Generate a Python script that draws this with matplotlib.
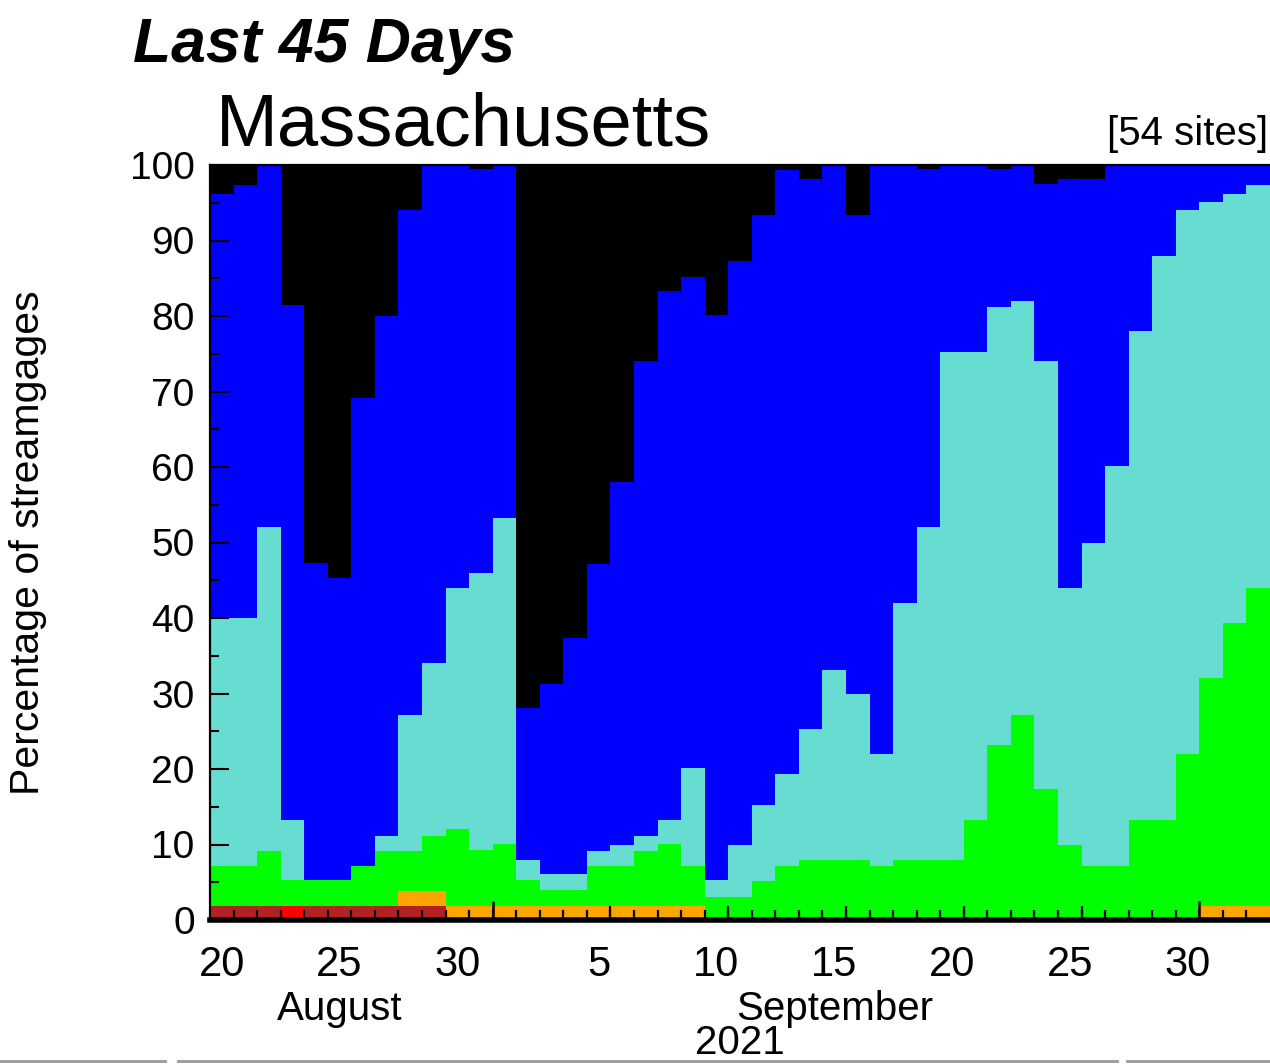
import numpy as np
import matplotlib.pyplot as plt
from matplotlib.lines import Line2D

plt.rcParams['font.family'] = ['Liberation Sans', 'DejaVu Sans']

# days shown (Aug 20 - Oct 3, 2021)
days = list(range(20, 32)) + list(range(1, 31)) + [1, 2, 3]

# percentage of streamgages in each flow class, per day
low = [0, 0, 0, 1.9, 0, 0, 0, 0, 0, 0,
       0, 0, 0, 0, 0, 0, 0, 0, 0, 0,
       0, 0, 0, 0, 0, 0, 0, 0, 0, 0,
       0, 0, 0, 0, 0, 0, 0, 0, 0, 0,
       0, 0, 0, 0, 0]
much_below = [1.9, 1.9, 1.9, 0, 1.9, 1.9, 1.9, 1.9, 1.9, 1.9,
              0, 0, 0, 0, 0, 0, 0, 0, 0, 0,
              0, 0, 0, 0, 0, 0, 0, 0, 0, 0,
              0, 0, 0, 0, 0, 0, 0, 0, 0, 0,
              0, 0, 0, 0, 0]
below = [0, 0, 0, 0, 0, 0, 0, 0, 1.9, 1.9,
         1.9, 1.9, 1.9, 1.9, 1.9, 1.9, 1.9, 1.9, 1.9, 1.9,
         1.9, 0, 0, 0, 0, 0, 0, 0, 0, 0,
         0, 0, 0, 0, 0, 0, 0, 0, 0, 0,
         0, 0, 1.9, 1.9, 1.9]
normal = [5.3, 5.3, 7.3, 3.4, 3.4, 3.4, 5.3, 7.3, 5.4, 7.3,
          10.2, 7.4, 8.2, 3.4, 2.1, 2.1, 5.3, 5.3, 7.3, 8.2,
          5.3, 3.1, 3.1, 5.2, 7.2, 8.0, 8.0, 8.0, 7.2, 8.0,
          8.0, 8.0, 13.2, 23.2, 27.2, 17.3, 10.0, 7.2, 7.2, 13.2,
          13.2, 22.0, 30.2, 37.4, 42.1]
above = [32.8, 32.8, 42.9, 7.9, 0, 0, 0, 1.9, 18.0, 23.0,
         31.9, 36.6, 43.1, 2.7, 2.1, 2.1, 2.0, 2.8, 1.9, 3.1,
         12.9, 2.2, 6.9, 10.0, 12.1, 17.3, 25.1, 22.0, 14.8, 34.0,
         44.1, 67.2, 62.0, 58.0, 54.8, 56.8, 34.0, 42.8, 52.9, 64.8,
         74.8, 72.0, 63.0, 56.9, 53.3]
much_above = [56.2, 57.3, 47.9, 68.2, 42.0, 40.0, 62.0, 68.9, 66.9, 65.9,
              56.0, 53.6, 46.8, 20.1, 25.2, 31.2, 38.0, 48.0, 63.0, 70.1,
              65.1, 74.8, 77.3, 78.2, 80.1, 72.8, 66.9, 63.4, 78.0, 58.0,
              47.4, 24.8, 24.8, 18.3, 18.0, 23.4, 54.1, 48.1, 39.9, 22.0,
              12.0, 6.0, 4.9, 3.8, 2.7]
high = [3.8, 2.7, 0, 18.6, 52.7, 54.7, 30.8, 20.0, 5.9, 0,
        0, 0.5, 0, 71.9, 68.7, 62.7, 52.8, 42.0, 25.9, 16.7,
        14.8, 19.9, 12.7, 6.6, 0.6, 1.9, 0, 6.6, 0, 0,
        0.5, 0, 0, 0.5, 0, 2.5, 1.9, 1.9, 0, 0,
        0, 0, 0, 0, 0]

layers = [low, much_below, below, normal, above, much_above, high]
colors = ['#ff0000', '#b22222', '#ffa500', '#00ff00', '#66ddd0', '#0000ff', '#000000']

fig = plt.figure(figsize=(12.7, 10.64), dpi=100)
ax = fig.add_axes([210 / 1270, 1 - 920 / 1064, 1 - 210 / 1270, 755 / 1064])

x = np.arange(len(days))
bottom = np.zeros(len(days))
for vals, col in zip(layers, colors):
    ax.bar(x, vals, width=1.0, bottom=bottom, align='edge', color=col, linewidth=0)
    bottom += np.array(vals)

ax.set_xlim(0, len(days))
ax.set_ylim(0, 100)

# x labels every 5 days
lab_idx = [0, 5, 10, 16, 21, 26, 31, 36, 41]
ax.set_xticks([i + 0.5 for i in lab_idx])
ax.set_xticklabels([str(days[i]) for i in lab_idx])
ax.set_xticks(np.arange(1, len(days)), minor=True)
ax.tick_params(axis='x', which='major', length=0, labelsize=30, pad=18)
ax.tick_params(axis='x', which='minor', direction='in', length=7, width=1.6)

# longer ticks at 5-day and month marks
ax.vlines([17, 22, 27, 32, 37], 0, 0.018, transform=ax.get_xaxis_transform(), colors='k', lw=1.6)
ax.vlines([12, 42], 0, 0.025, transform=ax.get_xaxis_transform(), colors='k', lw=1.8)

ax.set_yticks(np.arange(0, 101, 10))
ax.set_yticks(np.arange(5, 100, 10), minor=True)
ax.tick_params(axis='y', which='major', direction='in', length=13.5, width=1.5, labelsize=28, pad=11)
ax.tick_params(axis='y', which='minor', direction='in', length=6.5, width=1.5)

ax.spines['right'].set_visible(False)
ax.spines['top'].set_linewidth(1.6)
ax.spines['left'].set_linewidth(1.6)
ax.spines['bottom'].set_linewidth(4)
for s in ax.spines.values():
    s.set_zorder(5)

tr = ax.get_xaxis_transform()
ax.text(5.5, -0.1325, 'August', transform=tr, ha='center', va='baseline', fontsize=29)
ax.text(26.5, -0.1325, 'September', transform=tr, ha='center', va='baseline', fontsize=29)
ax.text(22.5, -0.178, '2021', transform=tr, ha='center', va='baseline', fontsize=29)

fig.text(133 / 1270, 1 - 62 / 1064, 'Last 45 Days', fontsize=45, fontweight='bold',
         fontstyle='italic', ha='left', va='baseline')
fig.text(216 / 1270, 1 - 145 / 1064, 'Massachusetts', fontsize=53.5, ha='left', va='baseline')
fig.text(1268 / 1270, 1 - 145 / 1064, '[54 sites]', fontsize=29, ha='right', va='baseline')
fig.text(28 / 1270, 1 - 543 / 1064, 'Percentage of streamgages', fontsize=29.5,
         rotation=90, ha='center', va='center')

# grey rule along the bottom edge
for x0, x1 in [(0, 165), (178, 1117), (1127, 1270)]:
    fig.add_artist(Line2D([x0 / 1270, x1 / 1270], [1 - 1061 / 1064] * 2,
                          color='#999999', lw=2, transform=fig.transFigure))

fig.savefig('out.png', dpi=100)
